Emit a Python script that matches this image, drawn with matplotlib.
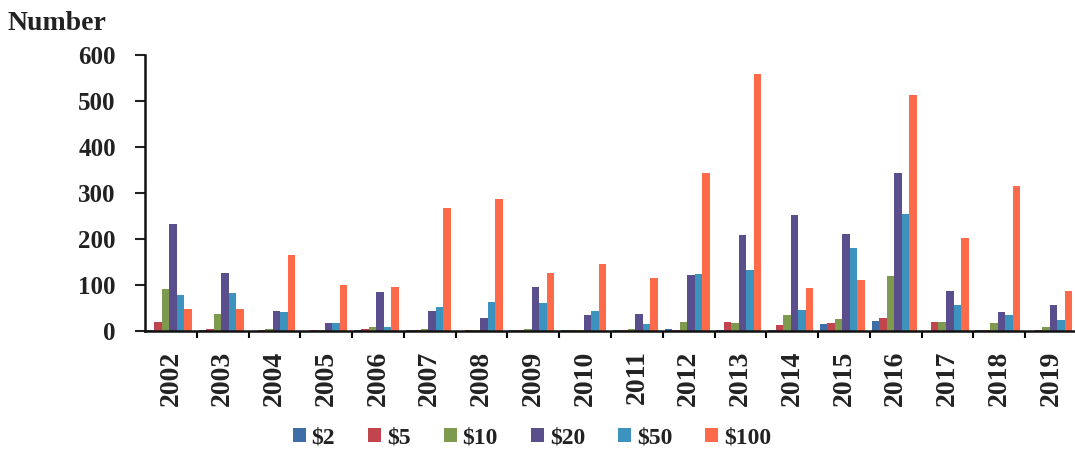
import matplotlib
matplotlib.use("Agg")
import matplotlib.pyplot as plt
import numpy as np

years = ["2002", "2003", "2004", "2005", "2006", "2007", "2008", "2009", "2010",
         "2011", "2012", "2013", "2014", "2015", "2016", "2017", "2018", "2019"]
series_names = ["$2", "$5", "$10", "$20", "$50", "$100"]
v2 = [2, 3, 0, 0, 2, 2, 0, 2, 3, 2, 5, 3, 2, 15, 22, 0, 2, 0]
v5 = [20, 5, 2, 2, 5, 3, 2, 3, 3, 3, 2, 20, 13, 18, 28, 20, 3, 2]
v10 = [92, 37, 5, 3, 8, 5, 2, 5, 3, 5, 20, 17, 35, 26, 120, 20, 17, 8]
v20 = [233, 126, 43, 17, 85, 43, 29, 96, 35, 38, 122, 209, 252, 211, 343, 86, 42, 56]
v50 = [78, 83, 42, 17, 8, 53, 64, 61, 44, 15, 124, 132, 45, 180, 254, 57, 35, 25]
v100 = [48, 48, 165, 100, 96, 268, 287, 127, 146, 115, 343, 558, 93, 111, 513, 202, 316, 88]
series_values = [v2, v5, v10, v20, v50, v100]
colors = ["#3F6DA8", "#C2454E", "#7E9A4E", "#5B4E8C", "#3B93BE", "#FF6A4A"]

plt.rcParams['font.family'] = ['Liberation Serif', 'DejaVu Serif']
plt.rcParams['font.weight'] = 'bold'

fig = plt.figure(figsize=(10.75, 4.5), dpi=100)
ax = fig.add_axes([145/1075, 1-331/450, 932/1075, (331-55)/450])

x = np.arange(len(years))
w = 0.145
for k, (name, vals, c) in enumerate(zip(series_names, series_values, colors)):
    ax.bar(x + (k - 2.5) * w - 0.03, vals, width=w, color=c, label=name, linewidth=0)

ax.set_xlim(-0.5, 17.5)
ax.set_ylim(0, 600)
ax.set_yticks(range(0, 601, 100))
ax.tick_params(axis='y', direction='out', length=7, width=1.5, pad=14, labelsize=18, colors='#222222')
ax.set_xticks(x)
ax.set_xticklabels(years, rotation=90, fontsize=20, fontweight='bold', color='#222222')
ax.tick_params(axis='x', which='major', length=0, pad=14)
ax.set_xticks(np.arange(0.5, 17.5, 1), minor=True)
ax.tick_params(axis='x', which='minor', direction='out', length=5, width=1.5)
for s in ['top', 'right']:
    ax.spines[s].set_visible(False)
for s in ['left', 'bottom']:
    ax.spines[s].set_linewidth(1.8)
    ax.spines[s].set_color('#111111')
for lbl in ax.get_yticklabels():
    lbl.set_fontweight('bold')

fig.text(8/1075, 1-23/450, "Number", fontsize=20, fontweight='bold', va='center', ha='left', color='#222222')

leg = fig.legend(loc='center', bbox_to_anchor=(532/1075, 1-438/450), ncol=6, frameon=False,
                 prop={'size': 17, 'weight': 'bold'}, handlelength=0.55, handleheight=0.55,
                 handletextpad=0.25, columnspacing=1.4, labelcolor='#222222')

fig.savefig("out.png", dpi=100)
